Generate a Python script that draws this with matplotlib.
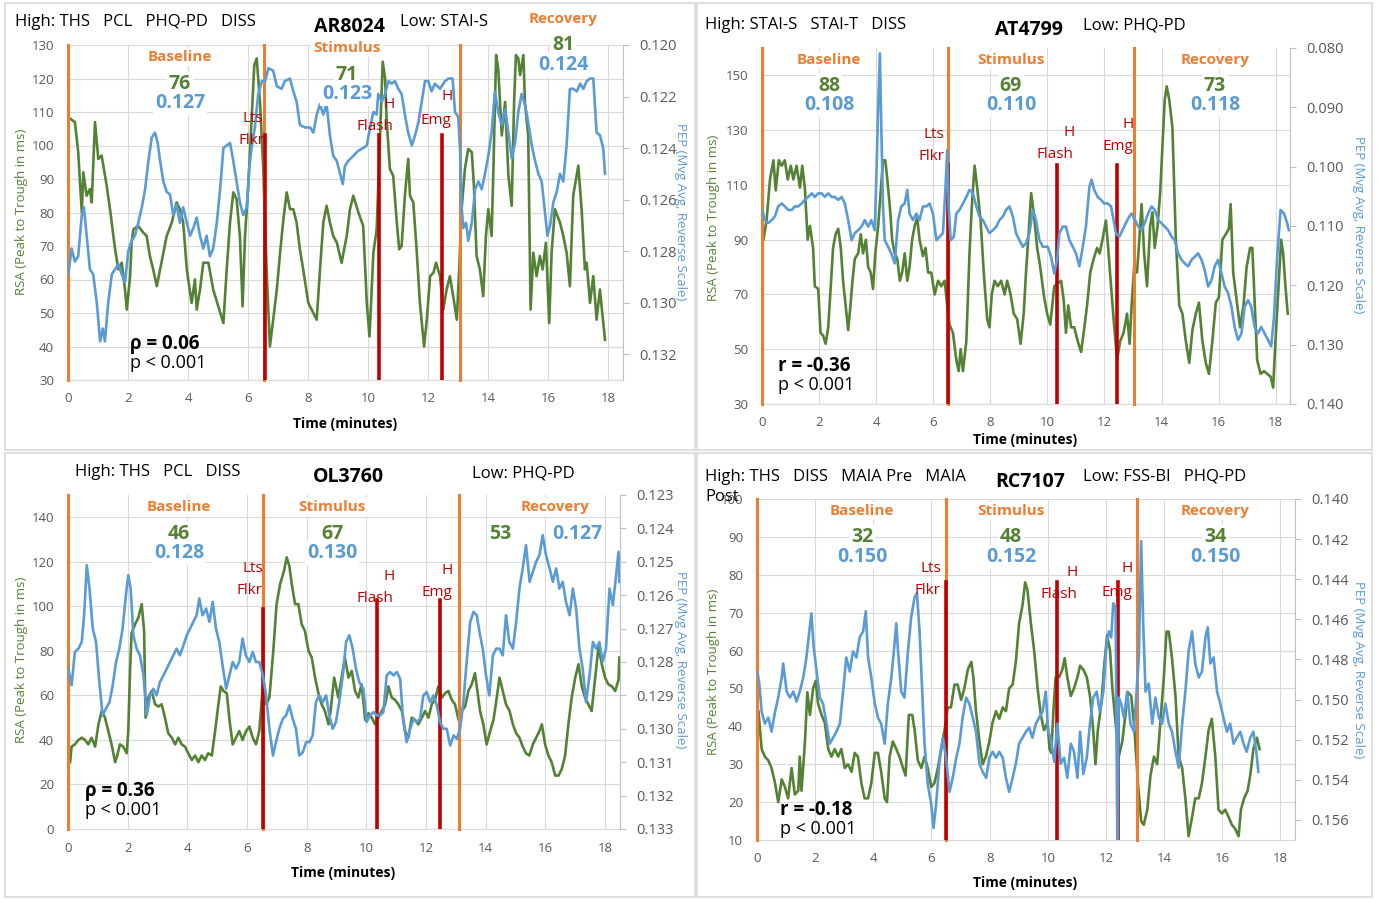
import matplotlib
matplotlib.use('Agg')
import matplotlib.pyplot as plt
from matplotlib.patches import Rectangle
from matplotlib.ticker import FormatStrFormatter
import numpy as np

plt.rcParams['font.family'] = ['Open Sans', 'DejaVu Sans']

W, H = 1377, 899

GREEN = '#548235'
BLUE = '#5B9BD5'
ORANGE = '#ED7D31'
RED = '#C00000'
GRID = '#D9D9D9'
TICK = '#595959'

# ---- AR8024 ----
ar_t_rsa = [
    0.07, 0.23, 0.34, 0.46, 0.51, 0.62, 0.73, 0.79, 0.90, 1.01,
    1.12, 1.29, 1.40, 1.57, 1.68, 1.79, 1.90, 1.96, 2.07, 2.12,
    2.18, 2.34, 2.51, 2.62, 2.73, 2.84, 2.96, 3.07, 3.18, 3.29,
    3.46, 3.62, 3.73, 3.84, 3.96, 4.12, 4.23, 4.29, 4.40, 4.51,
    4.68, 4.84, 5.01, 5.18, 5.29, 5.40, 5.51, 5.62, 5.73, 5.82,
    5.90, 6.01, 6.12, 6.21, 6.29, 6.40, 6.51, 6.62, 6.73, 6.84,
    6.96, 7.07, 7.18, 7.29, 7.40, 7.51, 7.62, 7.73, 7.84, 8.01,
    8.18, 8.29, 8.40, 8.51, 8.62, 8.73, 8.84, 8.96, 9.12, 9.29,
    9.40, 9.51, 9.68, 9.84, 9.96,
    10.05, 10.18, 10.29, 10.40, 10.49, 10.57, 10.62, 10.73, 10.84, 10.96,
    11.04, 11.12, 11.23, 11.34, 11.40, 11.51, 11.62, 11.73, 11.87, 11.96,
    12.07, 12.18, 12.27, 12.40, 12.51, 12.62, 12.73, 12.84, 12.96, 13.04,
    13.12, 13.23, 13.34, 13.46, 13.53, 13.62, 13.73, 13.84, 13.93, 14.01,
    14.12, 14.18, 14.27, 14.34, 14.46, 14.57, 14.68, 14.79, 14.87, 14.93,
    15.01, 15.07, 15.18, 15.23, 15.34, 15.42, 15.51, 15.62, 15.73, 15.82,
    15.93, 16.04, 16.12, 16.23, 16.40, 16.51, 16.62, 16.73, 16.84, 17.01,
    17.12, 17.23, 17.29, 17.40, 17.51, 17.62, 17.73, 17.90]
ar_rsa = [
    108, 107, 98, 80, 92, 85, 87, 83, 107, 96,
    97, 88, 81, 69, 63, 65, 57, 51, 61, 71,
    75, 76, 74, 73, 67, 63, 58, 63, 68, 73,
    77, 83, 81, 77, 63, 53, 60, 51, 57, 65,
    65, 57, 52, 47, 63, 77, 86, 84, 73, 52,
    73, 88, 108, 124, 126, 113, 93, 63, 40, 48,
    57, 68, 78, 86, 81, 81, 77, 69, 63, 53,
    50, 48, 63, 77, 82, 77, 73, 71, 65, 73,
    81, 85, 80, 76, 53,
    43, 68, 75, 103, 125, 120, 108, 93, 91, 77,
    69, 70, 85, 96, 85, 83, 69, 53, 40, 48,
    61, 62, 65, 61, 51, 57, 61, 55, 48, 63,
    81, 93, 99, 98, 88, 67, 63, 55, 73, 81,
    73, 93, 127, 123, 103, 113, 91, 82, 113, 127,
    126, 121, 127, 113, 103, 51, 68, 61, 67, 63,
    71, 47, 68, 81, 77, 73, 68, 58, 85, 94,
    81, 63, 65, 53, 61, 48, 57, 42]
ar_t_pep = [
    0.01, 0.12, 0.23, 0.34, 0.46, 0.53, 0.62, 0.73, 0.84, 0.96,
    1.07, 1.16, 1.23, 1.34, 1.46, 1.57, 1.68, 1.79, 1.90, 2.01,
    2.12, 2.23, 2.34, 2.46, 2.57, 2.68, 2.79, 2.90, 2.99, 3.07,
    3.18, 3.29, 3.40, 3.51, 3.62, 3.73, 3.84, 3.96, 4.07, 4.18,
    4.29, 4.40, 4.51, 4.62, 4.73, 4.84, 4.96, 5.07, 5.18, 5.29,
    5.40, 5.51, 5.62, 5.73, 5.84, 5.96, 6.04, 6.12, 6.23, 6.34,
    6.46, 6.57, 6.68, 6.84, 6.96, 7.12, 7.23, 7.40, 7.51, 7.62,
    7.73, 7.90, 8.07, 8.18, 8.29, 8.40, 8.51, 8.62, 8.73, 8.84,
    8.96, 9.07, 9.16, 9.23, 9.34, 9.51, 9.68, 9.84, 9.96, 10.07,
    10.18, 10.29, 10.34, 10.46, 10.57, 10.68, 10.79, 10.90, 11.01, 11.12,
    11.23, 11.34, 11.46, 11.57, 11.68, 11.79, 11.90, 12.01, 12.12, 12.23,
    12.40, 12.57, 12.68, 12.82, 12.90, 13.01, 13.07, 13.12, 13.18, 13.27,
    13.34, 13.46, 13.57, 13.68, 13.79, 13.90, 14.01, 14.12, 14.23, 14.34,
    14.46, 14.57, 14.68, 14.79, 14.90, 15.01, 15.12, 15.23, 15.34, 15.46,
    15.57, 15.68, 15.79, 15.90, 15.98, 16.07, 16.18, 16.29, 16.40, 16.51,
    16.62, 16.73, 16.84, 16.96, 17.07, 17.18, 17.29, 17.40, 17.51, 17.62,
    17.73, 17.84, 17.90]
ar_pep = [
    .1289, .1279, .1284, .1282, .1266, .1263, .1274, .1287, .1289, .1300,
    .1315, .1310, .1315, .1300, .1289, .1287, .1285, .1289, .1292, .1280,
    .1276, .1274, .1269, .1263, .1256, .1245, .1236, .1234, .1238, .1245,
    .1253, .1257, .1258, .1266, .1262, .1269, .1263, .1269, .1274, .1271,
    .1267, .1274, .1279, .1274, .1282, .1279, .1269, .1256, .1240, .1239,
    .1238, .1245, .1253, .1261, .1266, .1263, .1248, .1240, .1232, .1219,
    .1214, .1214, .1209, .1210, .1216, .1217, .1214, .1213, .1218, .1222,
    .1231, .1232, .1232, .1234, .1227, .1223, .1227, .1223, .1235, .1243,
    .1245, .1250, .1254, .1247, .1245, .1243, .1241, .1240, .1239, .1232,
    .1226, .1227, .1219, .1222, .1219, .1214, .1215, .1214, .1217, .1219,
    .1227, .1234, .1239, .1235, .1230, .1222, .1214, .1214, .1218, .1215,
    .1217, .1214, .1213, .1213, .1226, .1228, .1241, .1263, .1271, .1269,
    .1276, .1269, .1256, .1253, .1256, .1250, .1243, .1234, .1218, .1226,
    .1231, .1225, .1234, .1244, .1238, .1226, .1219, .1223, .1230, .1239,
    .1245, .1250, .1253, .1265, .1274, .1270, .1261, .1257, .1250, .1253,
    .1239, .1217, .1217, .1218, .1215, .1217, .1214, .1213, .1213, .1234,
    .1235, .1240, .1250]
ar_phases = [0, 6.53, 13.07]
ar_events = [6.55, 10.37, 12.47]
ar_rsa_mean = [76, 71, 81]
ar_pep_mean = [0.127, 0.123, 0.124]

# ---- AT4799 ----
at_t_rsa = [
    0.05, 0.16, 0.28, 0.40, 0.48, 0.59, 0.69, 0.80, 0.90, 1.01,
    1.10, 1.21, 1.33, 1.41, 1.50, 1.60, 1.68, 1.79, 1.85, 1.97,
    2.05, 2.14, 2.23, 2.32, 2.41, 2.49, 2.58, 2.67, 2.76, 2.84,
    2.93, 3.02, 3.10, 3.17, 3.25, 3.37, 3.46, 3.54, 3.64, 3.72,
    3.81, 3.89, 3.97, 4.07, 4.16, 4.24, 4.32, 4.39, 4.48, 4.56,
    4.65, 4.74, 4.83, 4.91, 5.00, 5.09, 5.17, 5.26, 5.35, 5.44,
    5.52, 5.64, 5.73, 5.82, 5.93, 6.05, 6.17, 6.28, 6.40, 6.49,
    6.57, 6.69, 6.81, 6.89, 6.96, 7.04, 7.16, 7.27, 7.35, 7.45,
    7.54, 7.66, 7.77, 7.89, 7.97, 8.05, 8.15, 8.26, 8.38, 8.50,
    8.59, 8.71, 8.82, 8.94, 9.06, 9.17, 9.25, 9.34, 9.43, 9.52,
    9.64, 9.75, 9.87, 9.99, 10.10, 10.24, 10.36, 10.48, 10.57, 10.65,
    10.73, 10.83, 10.94, 11.06, 11.18, 11.27, 11.39, 11.50, 11.62, 11.74,
    11.83, 11.93, 12.05, 12.13, 12.23, 12.32, 12.44, 12.55, 12.67, 12.79,
    12.88, 12.95, 13.04, 13.14, 13.22, 13.30, 13.39, 13.49, 13.60, 13.68,
    13.76, 13.86, 13.95, 14.03, 14.11, 14.18, 14.27, 14.38, 14.50, 14.62,
    14.73, 14.85, 14.97, 15.08, 15.20, 15.31, 15.43, 15.55, 15.66, 15.78,
    15.90, 16.01, 16.13, 16.25, 16.36, 16.42, 16.51, 16.63, 16.75, 16.87,
    16.98, 17.10, 17.18, 17.26, 17.35, 17.47, 17.59, 17.70, 17.82, 17.91,
    17.99, 18.11, 18.19, 18.26, 18.34, 18.42]
at_rsa = [
    90, 97, 112, 119, 108, 119, 117, 119, 112, 117,
    112, 117, 109, 117, 109, 90, 95, 87, 73, 72,
    56, 55, 52, 58, 73, 87, 92, 94, 87, 75,
    66, 57, 66, 75, 83, 85, 92, 85, 90, 80,
    78, 72, 85, 95, 108, 119, 119, 112, 102, 90,
    85, 83, 75, 78, 85, 75, 80, 90, 95, 98,
    90, 84, 87, 78, 78, 70, 75, 73, 75, 66,
    59, 56, 46, 42, 50, 42, 53, 85, 102, 117,
    109, 97, 78, 61, 58, 70, 75, 73, 75, 70,
    75, 70, 63, 61, 52, 63, 78, 92, 107, 100,
    87, 80, 70, 63, 59, 73, 74, 75, 68, 56,
    66, 58, 58, 53, 49, 56, 66, 78, 83, 87,
    85, 90, 97, 87, 73, 61, 46, 53, 56, 63,
    52, 66, 80, 78, 90, 103, 85, 73, 95, 100,
    87, 95, 107, 124, 141, 146, 141, 131, 90, 66,
    63, 53, 45, 57, 63, 67, 53, 45, 41, 53,
    67, 69, 90, 92, 94, 103, 78, 68, 58, 66,
    80, 87, 87, 68, 46, 41, 42, 41, 40, 36,
    53, 75, 90, 85, 73, 63]
at_t_pep = [
    0.01, 0.10, 0.22, 0.34, 0.45, 0.57, 0.69, 0.80, 0.92, 1.04,
    1.15, 1.27, 1.39, 1.50, 1.62, 1.74, 1.85, 1.97, 2.09, 2.20,
    2.32, 2.44, 2.55, 2.67, 2.79, 2.90, 3.02, 3.14, 3.25, 3.37,
    3.49, 3.60, 3.72, 3.83, 3.95, 4.01, 4.07, 4.13, 4.18, 4.24,
    4.30, 4.42, 4.53, 4.65, 4.77, 4.88, 5.00, 5.09, 5.17, 5.29,
    5.41, 5.52, 5.64, 5.76, 5.87, 5.99, 6.11, 6.22, 6.34, 6.43,
    6.49, 6.54, 6.61, 6.72, 6.81, 6.92, 7.04, 7.16, 7.27, 7.39,
    7.51, 7.62, 7.74, 7.85, 7.97, 8.09, 8.21, 8.32, 8.44, 8.55,
    8.67, 8.79, 8.90, 9.02, 9.14, 9.25, 9.37, 9.49, 9.60, 9.72,
    9.84, 10.01, 10.13, 10.24, 10.34, 10.42, 10.54, 10.65, 10.77, 10.89,
    11.00, 11.12, 11.24, 11.35, 11.47, 11.55, 11.64, 11.76, 11.88, 11.99,
    12.11, 12.23, 12.32, 12.40, 12.52, 12.63, 12.75, 12.87, 12.95, 13.07,
    13.18, 13.30, 13.41, 13.53, 13.65, 13.76, 13.88, 13.99, 14.11, 14.23,
    14.35, 14.46, 14.58, 14.70, 14.81, 14.93, 15.05, 15.16, 15.28, 15.40,
    15.51, 15.63, 15.75, 15.86, 15.98, 16.10, 16.21, 16.33, 16.45, 16.56,
    16.68, 16.80, 16.91, 17.03, 17.14, 17.26, 17.38, 17.49, 17.61, 17.73,
    17.84, 17.94, 18.05, 18.17, 18.29, 18.40, 18.46]
at_pep = [
    .1073, .1090, .1095, .1090, .1084, .1067, .1062, .1067, .1073, .1073,
    .1067, .1067, .1062, .1056, .1051, .1045, .1051, .1045, .1045, .1051,
    .1045, .1051, .1051, .1056, .1051, .1062, .1090, .1124, .1112, .1107,
    .1101, .1090, .1101, .1090, .1107, .1011, .0899, .0809, .0933, .1067,
    .1124, .1135, .1146, .1163, .1090, .1067, .1062, .1039, .1079, .1090,
    .1079, .1090, .1067, .1067, .1062, .1079, .1124, .1118, .1112, .1034,
    .0972, .1067, .1124, .1118, .1079, .1073, .1062, .1051, .1039, .1045,
    .1067, .1084, .1090, .1101, .1112, .1107, .1101, .1090, .1084, .1073,
    .1067, .1084, .1112, .1124, .1135, .1129, .1112, .1073, .1090, .1124,
    .1135, .1135, .1152, .1180, .1157, .1112, .1101, .1101, .1124, .1135,
    .1146, .1168, .1135, .1101, .1034, .1022, .1039, .1051, .1056, .1062,
    .1062, .1067, .1090, .1112, .1118, .1107, .1095, .1084, .1079, .1090,
    .1101, .1107, .1095, .1079, .1067, .1073, .1090, .1095, .1101, .1107,
    .1118, .1124, .1146, .1157, .1163, .1168, .1157, .1152, .1146, .1157,
    .1174, .1202, .1191, .1168, .1157, .1180, .1202, .1213, .1236, .1270,
    .1292, .1281, .1236, .1225, .1236, .1270, .1281, .1270, .1281, .1292,
    .1303, .1253, .1152, .1073, .1079, .1095, .1107]
at_phases = [0, 6.5, 13.04]
at_events = [6.5, 10.35, 12.45]
at_rsa_mean = [88, 69, 73]
at_pep_mean = [0.108, 0.110, 0.118]

# ---- OL3760 ----
ol_t_rsa = [
    0.07, 0.12, 0.23, 0.35, 0.46, 0.57, 0.68, 0.79, 0.91, 1.02,
    1.13, 1.24, 1.35, 1.46, 1.58, 1.65, 1.74, 1.85, 1.97, 2.02,
    2.08, 2.13, 2.25, 2.36, 2.47, 2.55, 2.60, 2.69, 2.80, 2.92,
    3.03, 3.14, 3.25, 3.36, 3.48, 3.59, 3.70, 3.81, 3.92, 4.03,
    4.15, 4.26, 4.37, 4.48, 4.59, 4.70, 4.82, 4.93, 5.04, 5.12,
    5.21, 5.32, 5.43, 5.52, 5.63, 5.74, 5.85, 5.97, 6.08, 6.19,
    6.30, 6.41, 6.53, 6.64, 6.75, 6.88, 6.99, 7.11, 7.24, 7.33,
    7.42, 7.50, 7.61, 7.72, 7.83, 7.94, 8.06, 8.17, 8.28, 8.39,
    8.50, 8.61, 8.73, 8.80, 8.92, 9.06, 9.17, 9.28, 9.40, 9.51,
    9.62, 9.73, 9.84, 9.96, 10.07, 10.18, 10.29, 10.40, 10.52, 10.63,
    10.74, 10.85, 10.96, 11.07, 11.19, 11.30, 11.41, 11.52, 11.63, 11.74,
    11.86, 11.97, 12.08, 12.19, 12.30, 12.41, 12.53, 12.64, 12.75, 12.86,
    12.97, 13.09, 13.20, 13.31, 13.42, 13.53, 13.64, 13.72, 13.81, 13.92,
    14.03, 14.15, 14.26, 14.37, 14.46, 14.57, 14.68, 14.80, 14.91, 15.02,
    15.13, 15.24, 15.35, 15.46, 15.58, 15.69, 15.80, 15.88, 15.99, 16.10,
    16.21, 16.33, 16.44, 16.55, 16.66, 16.77, 16.88, 17.00, 17.11, 17.22,
    17.33, 17.44, 17.55, 17.67, 17.78, 17.89, 18.00, 18.11, 18.23, 18.34,
    18.45, 18.48]
ol_rsa = [
    30, 37, 38, 40, 41, 40, 38, 41, 37, 47,
    53, 50, 44, 38, 30, 33, 38, 37, 34, 44,
    71, 88, 92, 95, 101, 89, 50, 59, 62, 56,
    55, 56, 50, 43, 41, 38, 41, 38, 37, 34,
    31, 33, 30, 33, 31, 34, 33, 44, 56, 64,
    62, 61, 47, 38, 41, 44, 40, 44, 46, 41,
    38, 44, 64, 56, 59, 80, 101, 110, 116, 122,
    118, 110, 101, 101, 92, 89, 80, 77, 68, 61,
    56, 53, 47, 53, 68, 59, 68, 77, 68, 71,
    62, 59, 65, 49, 52, 50, 47, 50, 53, 56,
    64, 59, 58, 56, 53, 44, 41, 50, 49, 47,
    50, 53, 50, 56, 58, 64, 59, 61, 62, 58,
    56, 49, 53, 55, 62, 65, 70, 62, 53, 47,
    38, 44, 49, 59, 68, 62, 56, 53, 47, 43,
    41, 37, 34, 33, 38, 41, 44, 47, 38, 33,
    30, 24, 24, 27, 33, 47, 59, 68, 74, 64,
    59, 56, 53, 68, 82, 74, 68, 65, 64, 62,
    67, 77]
ol_t_pep = [
    0.01, 0.12, 0.23, 0.35, 0.46, 0.54, 0.63, 0.72, 0.83, 0.94,
    1.05, 1.16, 1.27, 1.39, 1.50, 1.61, 1.72, 1.83, 1.94, 2.02,
    2.10, 2.19, 2.30, 2.41, 2.53, 2.64, 2.75, 2.86, 2.97, 3.08,
    3.20, 3.31, 3.42, 3.53, 3.64, 3.75, 3.87, 3.98, 4.09, 4.20,
    4.31, 4.40, 4.51, 4.63, 4.74, 4.85, 4.96, 5.07, 5.18, 5.30,
    5.41, 5.52, 5.63, 5.74, 5.85, 5.96, 6.08, 6.19, 6.30, 6.41,
    6.53, 6.64, 6.75, 6.87, 6.97, 7.08, 7.20, 7.31, 7.42, 7.53,
    7.64, 7.75, 7.87, 7.98, 8.09, 8.20, 8.31, 8.42, 8.54, 8.65,
    8.76, 8.87, 8.98, 9.09, 9.21, 9.32, 9.43, 9.54, 9.65, 9.76,
    9.90, 10.01, 10.12, 10.24, 10.35, 10.46, 10.57, 10.68, 10.79, 10.91,
    11.02, 11.13, 11.24, 11.35, 11.47, 11.58, 11.69, 11.80, 11.91, 12.02,
    12.14, 12.25, 12.36, 12.47, 12.58, 12.69, 12.81, 12.92, 13.03, 13.14,
    13.25, 13.36, 13.48, 13.59, 13.70, 13.79, 13.90, 14.01, 14.12, 14.24,
    14.35, 14.46, 14.57, 14.68, 14.79, 14.91, 15.02, 15.13, 15.24, 15.35,
    15.47, 15.58, 15.69, 15.80, 15.91, 16.02, 16.14, 16.25, 16.36, 16.47,
    16.58, 16.69, 16.81, 16.92, 17.03, 17.14, 17.25, 17.36, 17.48, 17.59,
    17.70, 17.81, 17.92, 18.03, 18.15, 18.26, 18.37, 18.45, 18.48]
ol_pep = [
    .1282, .1287, .1277, .1276, .1274, .1266, .1251, .1258, .1270, .1274,
    .1286, .1296, .1294, .1292, .1287, .1280, .1276, .1270, .1260, .1254,
    .1258, .1272, .1276, .1278, .1284, .1296, .1290, .1288, .1290, .1286,
    .1284, .1282, .1280, .1278, .1276, .1278, .1275, .1272, .1270, .1268,
    .1266, .1261, .1266, .1264, .1268, .1262, .1270, .1274, .1281, .1288,
    .1284, .1280, .1282, .1280, .1273, .1278, .1280, .1277, .1280, .1280,
    .1284, .1290, .1300, .1308, .1304, .1300, .1297, .1296, .1293, .1297,
    .1300, .1308, .1307, .1304, .1304, .1302, .1292, .1290, .1292, .1290,
    .1296, .1300, .1298, .1292, .1284, .1274, .1272, .1276, .1282, .1286,
    .1288, .1298, .1296, .1295, .1296, .1296, .1295, .1284, .1283, .1284,
    .1283, .1285, .1298, .1304, .1300, .1297, .1298, .1297, .1290, .1289,
    .1292, .1290, .1293, .1298, .1300, .1300, .1305, .1302, .1303, .1300,
    .1292, .1280, .1268, .1265, .1266, .1271, .1276, .1284, .1290, .1278,
    .1276, .1276, .1278, .1266, .1274, .1276, .1268, .1258, .1252, .1245,
    .1256, .1253, .1250, .1248, .1242, .1248, .1252, .1256, .1252, .1258,
    .1256, .1262, .1266, .1258, .1264, .1276, .1282, .1292, .1284, .1274,
    .1276, .1274, .1280, .1276, .1258, .1263, .1254, .1247, .1256]
ol_phases = [0, 6.55, 13.1]
ol_events = [6.55, 10.37, 12.48]
ol_rsa_mean = [46, 67, 53]
ol_pep_mean = [0.128, 0.130, 0.127]

# ---- RC7107 ----
rc_t_rsa = [
    0.05, 0.16, 0.27, 0.39, 0.50, 0.62, 0.73, 0.85, 0.96, 1.07,
    1.19, 1.30, 1.42, 1.47, 1.53, 1.65, 1.73, 1.82, 1.93, 2.02,
    2.10, 2.22, 2.33, 2.45, 2.56, 2.67, 2.79, 2.90, 3.02, 3.13,
    3.25, 3.36, 3.47, 3.59, 3.70, 3.82, 3.93, 4.05, 4.16, 4.27,
    4.39, 4.47, 4.56, 4.67, 4.79, 4.90, 5.02, 5.11, 5.22, 5.34,
    5.42, 5.53, 5.65, 5.76, 5.87, 5.99, 6.10, 6.22, 6.33, 6.45,
    6.56, 6.67, 6.79, 6.90, 7.02, 7.13, 7.25, 7.37, 7.44, 7.53,
    7.65, 7.76, 7.87, 7.99, 8.10, 8.22, 8.33, 8.45, 8.56, 8.67,
    8.79, 8.90, 9.01, 9.13, 9.22, 9.30, 9.42, 9.53, 9.65, 9.76,
    9.87, 9.99, 10.06, 10.12, 10.20, 10.27, 10.39, 10.50, 10.58, 10.67,
    10.79, 10.90, 11.02, 11.11, 11.22, 11.34, 11.45, 11.56, 11.64, 11.72,
    11.84, 11.95, 12.04, 12.14, 12.22, 12.33, 12.44, 12.56, 12.67, 12.75,
    12.87, 12.98, 13.10, 13.21, 13.30, 13.42, 13.53, 13.65, 13.76, 13.87,
    13.99, 14.08, 14.16, 14.27, 14.39, 14.50, 14.62, 14.73, 14.84, 14.96,
    15.07, 15.19, 15.30, 15.42, 15.53, 15.64, 15.76, 15.87, 15.99, 16.10,
    16.22, 16.33, 16.44, 16.56, 16.64, 16.75, 16.87, 16.96, 17.07, 17.19,
    17.28]
rc_rsa = [
    44, 34, 32, 31, 29, 25, 20, 26, 24, 21,
    29, 22, 23, 32, 23, 36, 49, 43, 50, 52,
    46, 43, 41, 34, 32, 34, 32, 34, 29, 30,
    28, 33, 32, 25, 21, 21, 25, 33, 33, 28,
    21, 20, 32, 36, 34, 32, 29, 27, 43, 43,
    39, 31, 29, 32, 29, 24, 25, 29, 34, 39,
    45, 45, 51, 51, 47, 50, 55, 57, 53, 44,
    36, 30, 32, 36, 41, 44, 42, 45, 44, 50,
    51, 57, 67, 72, 78, 76, 67, 60, 50, 43,
    39, 41, 34, 33, 45, 53, 53, 55, 58, 53,
    48, 50, 53, 56, 55, 53, 48, 39, 30, 39,
    46, 57, 64, 60, 50, 41, 32, 36, 43, 49,
    48, 39, 25, 15, 14, 18, 27, 32, 30, 41,
    53, 65, 65, 58, 48, 32, 29, 21, 11, 16,
    21, 21, 25, 32, 39, 42, 32, 18, 17, 18,
    16, 14, 13, 11, 18, 21, 23, 27, 34, 37,
    34]
rc_t_pep = [
    0.01, 0.08, 0.16, 0.27, 0.39, 0.50, 0.62, 0.73, 0.85, 0.90,
    1.02, 1.13, 1.25, 1.36, 1.47, 1.59, 1.70, 1.79, 1.87, 1.95,
    2.05, 2.16, 2.27, 2.39, 2.50, 2.62, 2.73, 2.85, 2.96, 3.07,
    3.19, 3.30, 3.42, 3.53, 3.65, 3.74, 3.82, 3.93, 4.05, 4.16,
    4.27, 4.39, 4.50, 4.62, 4.73, 4.79, 4.85, 4.96, 5.07, 5.19,
    5.30, 5.42, 5.50, 5.59, 5.68, 5.76, 5.87, 5.99, 6.07, 6.16,
    6.27, 6.39, 6.50, 6.62, 6.73, 6.85, 6.96, 7.07, 7.19, 7.30,
    7.42, 7.53, 7.65, 7.76, 7.88, 7.99, 8.10, 8.22, 8.33, 8.45,
    8.56, 8.67, 8.79, 8.90, 9.01, 9.13, 9.25, 9.36, 9.47, 9.59,
    9.70, 9.82, 9.93, 10.01, 10.10, 10.22, 10.33, 10.44, 10.56, 10.67,
    10.79, 10.90, 11.02, 11.11, 11.22, 11.34, 11.45, 11.56, 11.68, 11.79,
    11.91, 12.02, 12.10, 12.18, 12.25, 12.33, 12.39, 12.44, 12.52, 12.62,
    12.73, 12.84, 12.96, 13.05, 13.13, 13.21, 13.28, 13.36, 13.47, 13.59,
    13.70, 13.82, 13.93, 14.04, 14.16, 14.27, 14.39, 14.50, 14.62, 14.73,
    14.84, 14.96, 15.07, 15.19, 15.30, 15.42, 15.50, 15.59, 15.70, 15.82,
    15.93, 16.04, 16.16, 16.27, 16.39, 16.50, 16.62, 16.73, 16.84, 16.96,
    17.07, 17.17, 17.24]
rc_pep = [
    .1486, .1492, .1506, .1512, .1509, .1516, .1506, .1499, .1489, .1482,
    .1496, .1499, .1496, .1501, .1496, .1489, .1479, .1467, .1457, .1474,
    .1486, .1499, .1502, .1512, .1522, .1519, .1516, .1512, .1496, .1479,
    .1486, .1476, .1479, .1469, .1466, .1456, .1479, .1489, .1502, .1509,
    .1512, .1522, .1502, .1489, .1472, .1462, .1476, .1496, .1499, .1476,
    .1459, .1449, .1447, .1466, .1496, .1522, .1542, .1552, .1564, .1552,
    .1532, .1519, .1529, .1546, .1539, .1529, .1522, .1509, .1499, .1502,
    .1509, .1516, .1532, .1536, .1539, .1529, .1526, .1529, .1526, .1529,
    .1539, .1546, .1539, .1532, .1522, .1519, .1516, .1514, .1519, .1512,
    .1509, .1506, .1496, .1516, .1519, .1531, .1512, .1532, .1529, .1539,
    .1522, .1526, .1539, .1516, .1537, .1529, .1512, .1499, .1496, .1506,
    .1496, .1472, .1466, .1469, .1452, .1454, .1571, .1499, .1502, .1509,
    .1496, .1512, .1516, .1496, .1479, .1421, .1462, .1496, .1492, .1512,
    .1499, .1509, .1512, .1502, .1512, .1516, .1526, .1534, .1512, .1496,
    .1476, .1466, .1482, .1489, .1486, .1469, .1464, .1482, .1479, .1496,
    .1502, .1509, .1516, .1512, .1522, .1519, .1516, .1522, .1526, .1519,
    .1516, .1526, .1536]
rc_phases = [0, 6.5, 13.05]
rc_events = [6.5, 10.3, 12.43]
rc_rsa_mean = [32, 48, 34]
rc_pep_mean = [0.150, 0.152, 0.150]

phase_names = ['Baseline', 'Stimulus', 'Recovery']
event_names = [('Lts', 'Flkr'), ('H', 'Flash'), ('H', 'Emg')]

fig = plt.figure(figsize=(W / 100, H / 100), dpi=100)


def put(x, y, s, ha='center', **kw):
    # place text by pixel position (origin top-left)
    fig.text(x / W, 1 - y / H, s, ha=ha, va='center', **kw)


def frame(x0, y0, x1, y1):
    fig.patches.append(Rectangle((x0 / W, 1 - y1 / H), (x1 - x0) / W, (y1 - y0) / H,
                                 transform=fig.transFigure, fill=False,
                                 edgecolor='#D9D9D9', lw=1.2))


def draw_panel(box, t_rsa, rsa, t_pep, pep, rsa_lim, rsa_ticks, pep_lim, pep_ticks,
               phases, events, red_tops):
    l, t, r, b = box
    ax = fig.add_axes([l / W, 1 - b / H, (r - l) / W, (b - t) / H])
    ax.set_xlim(0, 18.5)
    ax.set_ylim(*rsa_lim)
    ax.set_xticks(np.arange(0, 19, 2))
    ax.set_yticks(rsa_ticks)
    ax.grid(True, color=GRID, lw=0.8)
    ax.set_axisbelow(True)
    for side in ['left', 'top', 'right']:
        ax.spines[side].set_visible(False)
    ax.spines['bottom'].set_color(GRID)
    ax.tick_params(axis='both', length=0, labelsize=9.5, labelcolor=TICK)
    ax.tick_params(axis='y', pad=10)
    ax.tick_params(axis='x', pad=9)
    ax.plot(t_rsa, rsa, color=GREEN, lw=1.9, zorder=3)

    ax2 = ax.twinx()
    ax2.set_ylim(*pep_lim)
    ax2.set_yticks(pep_ticks)
    ax2.yaxis.set_major_formatter(FormatStrFormatter('%.3f'))
    for side in ['left', 'top', 'bottom']:
        ax2.spines[side].set_visible(False)
    ax2.spines['right'].set_color('#BFBFBF')
    ax2.tick_params(axis='y', length=4, color='#BFBFBF', labelsize=10.5,
                    labelcolor=TICK, pad=8)
    for x in phases:
        ax2.axvline(x, color=ORANGE, lw=2.2, zorder=1, clip_on=False)
    for x, top in zip(events, red_tops):
        ax2.axvline(x, ymin=0, ymax=top, color=RED, lw=2.6, zorder=1.5)
    ax2.plot(t_pep, pep, color=BLUE, lw=1.9, zorder=2)
    return ax, ax2


def phase_labels(name_pos, rsa_pos, pep_pos, rsa_mean, pep_mean):
    box = dict(facecolor='white', edgecolor='none', pad=1.5)
    for i in range(3):
        put(*name_pos[i], phase_names[i], color=ORANGE, fontsize=11,
            fontweight='bold', bbox=box)
        put(*rsa_pos[i], f'{rsa_mean[i]}', color=GREEN, fontsize=14,
            fontweight='bold', bbox=box)
        put(*pep_pos[i], f'{pep_mean[i]:.3f}', color=BLUE, fontsize=14,
            fontweight='bold', bbox=box)


def event_labels(top_pos, bottom_pos):
    for (a, b), p, q in zip(event_names, top_pos, bottom_pos):
        put(*p, a, color=RED, fontsize=11)
        put(*q, b, color=RED, fontsize=11)


def axis_titles(left_pos, right_pos, x_pos):
    put(*left_pos, 'RSA (Peak to Trough in ms)', color=GREEN, fontsize=9.5,
        rotation=90)
    put(*right_pos, 'PEP (Mvg Avg, Reverse Scale)', color=BLUE, fontsize=9.5,
        rotation=-90)
    put(*x_pos, 'Time (minutes)', fontsize=10, fontweight='bold')


def stats(pos, first, second):
    x, y = pos
    put(x, y, first, ha='left', fontsize=13.5, fontweight='bold')
    put(x, y + 19, second, ha='left', fontsize=13)


frame(5, 3, 695, 450)
frame(697, 3, 1372, 450)
frame(5, 453, 695, 897)
frame(697, 453, 1372, 897)

# AR8024
draw_panel((68, 45, 623, 380), ar_t_rsa, ar_rsa, ar_t_pep, ar_pep,
           (30, 130), np.arange(30, 131, 10), (0.133, 0.120),
           np.arange(0.120, 0.1321, 0.002), ar_phases, ar_events,
           [0.73, 0.73, 0.73])
put(15, 22, 'High: THS   PCL   PHQ-PD   DISS', ha='left', fontsize=12)
put(349, 27, 'AR8024', fontsize=14, fontweight='bold')
put(400, 22, 'Low: STAI-S', ha='left', fontsize=12)
phase_labels([(180, 57), (347, 48), (563, 19)],
             [(180, 84), (347, 75), (563, 45)],
             [(180, 103), (347, 94), (563, 65)], ar_rsa_mean, ar_pep_mean)
event_labels([(253, 119), (389, 104), (447, 97)],
             [(251, 141), (375, 126), (436, 120)])
axis_titles((22, 212), (681, 212), (345, 424))
stats((130, 344), 'ρ = 0.06', 'p < 0.001')

# AT4799
draw_panel((762, 48, 1290, 404), at_t_rsa, at_rsa, at_t_pep, at_pep,
           (30, 160), np.arange(30, 151, 20), (0.140, 0.080),
           np.arange(0.080, 0.1401, 0.010), at_phases, at_events,
           [0.67, 0.67, 0.67])
put(705, 25, 'High: STAI-S   STAI-T   DISS', ha='left', fontsize=12)
put(1029, 30, 'AT4799', fontsize=14, fontweight='bold')
put(1083, 25, 'Low: PHQ-PD', ha='left', fontsize=12)
phase_labels([(829, 60), (1011, 60), (1215, 60)],
             [(829, 86), (1011, 86), (1215, 86)],
             [(829, 105), (1011, 105), (1215, 105)], at_rsa_mean, at_pep_mean)
event_labels([(934, 135), (1069, 132), (1128, 124)],
             [(932, 157), (1055, 155), (1118, 147)])
axis_titles((713, 218), (1358, 225), (1025, 440))
stats((778, 366), 'r = -0.36', 'p < 0.001')

# OL3760
draw_panel((68, 495, 620, 829), ol_t_rsa, ol_rsa, ol_t_pep, ol_pep,
           (0, 150), np.arange(0, 141, 20), (0.133, 0.123),
           np.arange(0.123, 0.1331, 0.001), ol_phases, ol_events,
           [0.66, 0.685, 0.685])
put(75, 472, 'High: THS   PCL   DISS', ha='left', fontsize=12)
put(348, 477, 'OL3760', fontsize=14, fontweight='bold')
put(472, 473, 'Low: PHQ-PD', ha='left', fontsize=12)
phase_labels([(179, 507), (332, 507), (555, 507)],
             [(179, 534), (332, 534), (500, 534)],
             [(179, 553), (332, 553), (577, 534)], ol_rsa_mean, ol_pep_mean)
event_labels([(253, 569), (389, 577), (447, 570)],
             [(250, 591), (375, 599), (437, 593)])
axis_titles((22, 660), (680, 660), (343, 873))
stats((85, 791), 'ρ = 0.36', 'p < 0.001')

# RC7107
draw_panel((757, 499, 1295, 840), rc_t_rsa, rc_rsa, rc_t_pep, rc_pep,
           (10, 100), np.arange(10, 101, 10), (0.157, 0.140),
           np.arange(0.140, 0.1561, 0.002), rc_phases, rc_events,
           [0.757, 0.757, 0.757])
put(705, 477, 'High: THS   DISS   MAIA Pre   MAIA', ha='left', fontsize=12)
put(705, 497, 'Post', ha='left', fontsize=12)
put(1030, 482, 'RC7107', fontsize=14, fontweight='bold')
put(1083, 477, 'Low: FSS-BI   PHQ-PD', ha='left', fontsize=12)
phase_labels([(862, 511), (1011, 511), (1215, 511)],
             [(862, 537), (1011, 537), (1215, 537)],
             [(862, 557), (1011, 557), (1215, 557)], rc_rsa_mean, rc_pep_mean)
event_labels([(931, 569), (1072, 572), (1127, 569)],
             [(927, 591), (1059, 594), (1117, 592)])
axis_titles((713, 672), (1358, 670), (1025, 883))
stats((780, 810), 'r = -0.18', 'p < 0.001')

fig.savefig('out.png', dpi=100, facecolor='white')
